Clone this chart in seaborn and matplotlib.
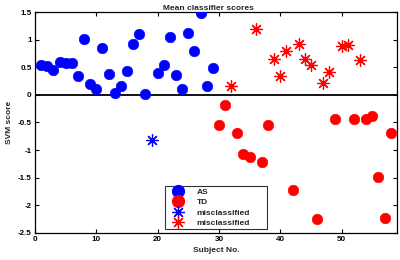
import matplotlib
matplotlib.use("Agg")
import matplotlib.pyplot as plt
import seaborn as sns
import pandas as pd
from matplotlib.lines import Line2D

# ---- data ----
as_subjects = [1, 2, 3, 4, 5, 6, 7, 8, 9, 10, 11, 12, 13, 14, 15, 16, 17, 18,
               20, 21, 22, 23, 24, 25, 26, 27, 28, 29]
as_scores = [0.55, 0.53, 0.46, 0.60, 0.58, 0.58, 0.35, 1.01, 0.19, 0.11, 0.85, 0.38,
             0.03, 0.16, 0.43, 0.92, 1.10, 0.02, 0.40, 0.54, 1.05, 0.37, 0.11, 1.13,
             0.79, 1.48, 0.17, 0.49]
td_subjects = [30, 31, 33, 34, 35, 37, 38, 42, 46, 49, 52, 54, 55, 56, 57, 58]
td_scores = [-0.55, -0.18, -0.69, -1.08, -1.12, -1.21, -0.54, -1.72, -2.25, -0.44,
             -0.44, -0.43, -0.39, -1.49, -2.23, -0.69]
as_mis_subjects = [19]
as_mis_scores = [-0.81]
td_mis_subjects = [32, 36, 39, 40, 41, 43, 44, 45, 47, 48, 50, 51, 53]
td_mis_scores = [0.17, 1.19, 0.65, 0.35, 0.80, 0.93, 0.66, 0.55, 0.21, 0.41, 0.88,
                 0.91, 0.63]

legend_labels = ["AS", "TD", "misclassified", "misclassified"]
xticks = [0, 10, 20, 30, 40, 50]
yticks = [-2.5, -2, -1.5, -1, -0.5, 0, 0.5, 1, 1.5]
ytick_labels = ["-2.5", "-2", "-1.5", "-1", "-0.5", "0", "0.5", "1", "1.5"]

df_as = pd.DataFrame({"subject": as_subjects, "score": as_scores})
df_td = pd.DataFrame({"subject": td_subjects, "score": td_scores})
df_asm = pd.DataFrame({"subject": as_mis_subjects, "score": as_mis_scores})
df_tdm = pd.DataFrame({"subject": td_mis_subjects, "score": td_mis_scores})

# ---- style ----
sns.set_style("ticks")
plt.rcParams["font.family"] = ["Liberation Sans", "DejaVu Sans"]
plt.rcParams["font.weight"] = "bold"

fig = plt.figure(figsize=(4, 2.6), dpi=100)
ax = fig.add_axes([0.0875, 0.105, 0.9045, 0.848])

BLUE = "#0000ff"
RED = "#ff0000"
STAR = (8, 2, 0)

ax.axhline(0, color="black", lw=1.3, zorder=1)

sns.scatterplot(data=df_as, x="subject", y="score", ax=ax, color=BLUE, marker="o",
                s=58, edgecolor=BLUE, linewidth=0.4, zorder=3, legend=False)
sns.scatterplot(data=df_td, x="subject", y="score", ax=ax, color=RED, marker="o",
                s=58, edgecolor=RED, linewidth=0.4, zorder=3, legend=False)
sns.scatterplot(data=df_asm, x="subject", y="score", ax=ax, color=BLUE, marker=STAR,
                s=70, linewidth=0.9, zorder=3, legend=False)
sns.scatterplot(data=df_tdm, x="subject", y="score", ax=ax, color=RED, marker=STAR,
                s=70, linewidth=0.9, zorder=3, legend=False)

ax.set_xlim(0, 59)
ax.set_ylim(-2.5, 1.5)
ax.set_xticks(xticks)
ax.set_xticklabels([str(t) for t in xticks])
ax.set_yticks(yticks)
ax.set_yticklabels(ytick_labels)
ax.tick_params(direction="in", length=3, width=0.8, labelsize=5.8, pad=2.5,
               top=True, right=True, colors="black")
for sp in ax.spines.values():
    sp.set_visible(True)
    sp.set_color("black")
    sp.set_linewidth(0.9)

ax.set_xlabel("Subject No.", fontsize=6, fontweight="bold", labelpad=3)
ax.set_ylabel("SVM score", fontsize=6, fontweight="bold", labelpad=3)
ax.set_title("Mean classifier scores", fontsize=6, fontweight="bold", pad=1.5,
             x=0.48)

handles = [
    Line2D([], [], ls="none", marker="o", color=BLUE, markersize=8.5),
    Line2D([], [], ls="none", marker="o", color=RED, markersize=8.5),
    Line2D([], [], ls="none", marker=STAR, color=BLUE, markersize=9, mew=0.9),
    Line2D([], [], ls="none", marker=STAR, color=RED, markersize=9, mew=0.9),
]
leg = ax.legend(handles, legend_labels, loc="lower left",
                bbox_to_anchor=(0.359, 0.015, 0.281, 0.216), mode="expand",
                fontsize=6, frameon=True, fancybox=False, borderpad=0.3,
                labelspacing=0.3, handletextpad=0.9, handlelength=2.6,
                borderaxespad=0)
leg.get_frame().set_edgecolor("black")
leg.get_frame().set_linewidth(0.8)
for t in leg.get_texts():
    t.set_fontweight("bold")

fig.savefig("out.png", dpi=100)
